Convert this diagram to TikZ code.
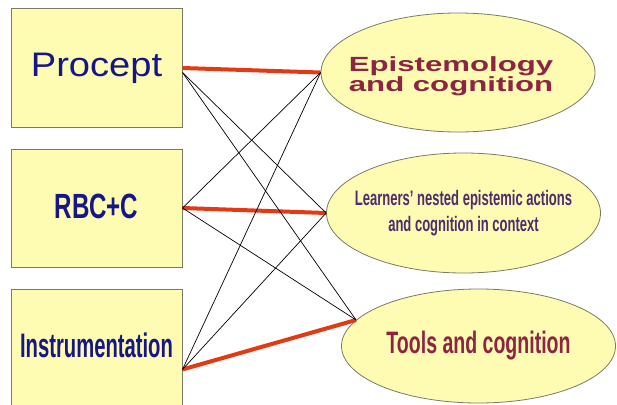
\documentclass[tikz,border=0pt]{standalone}
\usepackage{fontspec}
\setmainfont{Liberation Sans}
\usetikzlibrary{shapes.geometric, positioning}
\definecolor{boxfill}{HTML}{FDFCB2}
\definecolor{edge}{HTML}{7A7A66}
\definecolor{navy}{HTML}{16168A}
\definecolor{maroon}{HTML}{8E2344}
\definecolor{plum}{HTML}{4E2C6E}
\definecolor{tiered}{HTML}{E23A12}

\begin{document}
\begin{tikzpicture}[
    x=1pt,
    y=-1pt,
    box/.style={draw=edge, fill=boxfill, line width=1pt, minimum width=171pt, minimum height=118pt, inner sep=0pt, text=navy},
    oval/.style={ellipse, draw=edge, fill=boxfill, line width=0.8pt, inner sep=0pt, minimum width=274pt},
    tie/.style={draw=tiered, line width=4pt},
    wire/.style={draw=black, line width=0.7pt}
]
\useasboundingbox (0,0) rectangle (617,404);
\clip (0,0) rectangle (617,404);

% --- Frameworks ---
\node[box] (procept) at (96.5,68) {\scalebox{1.12}[1]{\fontsize{34}{36}\selectfont Procept}};
\node[box, below=21pt of procept] (rbc) {\raisebox{3pt}{\scalebox{0.69}[1]{\fontsize{35}{37}\selectfont\bfseries RBC+C}}};
\node[box, below=21pt of rbc] (instr) {\raisebox{6pt}{\scalebox{0.595}[1]{\fontsize{34}{36}\selectfont\bfseries Instrumentation}}};

% --- Foci ---
\node[oval, minimum height=119pt, text=maroon] (epist) at (458,72.5)
    {\makebox[0pt]{\hspace{-14pt}\raisebox{-9.5pt}[0pt][0pt]{\scalebox{1.52}[1]{\fontsize{20.5}{18}\selectfont\bfseries\begin{tabular}{@{}c@{}}Epistemology\\and cognition\end{tabular}}}}};
\node[oval, minimum height=120pt, text=plum] (learn) at (463.5,213)
    {\makebox[0pt]{\scalebox{0.62}[1]{\fontsize{21}{26}\selectfont\bfseries\begin{tabular}{@{}c@{}}Learners' nested epistemic actions\\and cognition in context\end{tabular}}}};
\node[oval, minimum height=114pt, text=maroon] (tools) at (478.5,346)
    {\makebox[0pt]{\scalebox{0.63}[1]{\fontsize{31}{33}\selectfont\bfseries Tools and cognition}}};

% --- Main links ---
\draw[tie] (procept.east) -- (epist.west);
\draw[tie] (rbc.east) -- (learn.west);
\draw[tie] (instr.-14) -- (tools.168);

% --- Cross links ---
\draw[wire] (procept.-3) -- (learn.west);
\draw[wire] (procept.-3) -- (tools.168);
\draw[wire] (rbc.east) -- (epist.west);
\draw[wire] (rbc.east) -- (tools.168);
\draw[wire] (instr.-14) -- (epist.west);
\draw[wire] (instr.-14) -- (learn.west);
\end{tikzpicture}
\end{document}
